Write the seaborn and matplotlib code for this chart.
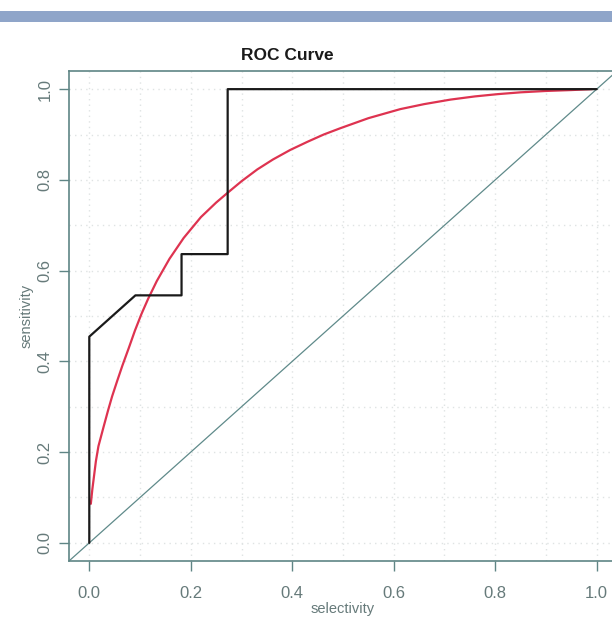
import matplotlib
matplotlib.use("Agg")
import matplotlib.pyplot as plt
import seaborn as sns
import pandas as pd
from matplotlib.patches import Rectangle
from matplotlib.ticker import MultipleLocator

# Empirical ROC (black step curve)
emp_fpr = [0.0, 0.0, 0.0909, 0.1818, 0.1818, 0.2727, 0.2727, 1.0]
emp_tpr = [0.0, 0.4545, 0.5455, 0.5455, 0.6364, 0.6364, 1.0, 1.0]

# Smoothed ROC (red curve)
smooth_fpr = [0.003, 0.006, 0.0085, 0.013, 0.018, 0.028, 0.037, 0.045, 0.055,
              0.065, 0.078, 0.09, 0.103, 0.116, 0.133, 0.158, 0.186, 0.22,
              0.25, 0.272, 0.30, 0.331, 0.362, 0.396, 0.43, 0.462, 0.495,
              0.55, 0.613, 0.66, 0.712, 0.76, 0.805, 0.85, 0.9, 0.95, 0.99]
smooth_tpr = [0.086, 0.118, 0.14, 0.18, 0.213, 0.255, 0.292, 0.323, 0.357,
              0.39, 0.43, 0.468, 0.505, 0.538, 0.577, 0.626, 0.672, 0.718,
              0.75, 0.771, 0.797, 0.823, 0.845, 0.866, 0.884, 0.9, 0.914,
              0.936, 0.956, 0.967, 0.977, 0.984, 0.989, 0.993, 0.996, 0.998, 1.0]

diag = [0.0, 1.0]

ticks = [0.0, 0.2, 0.4, 0.6, 0.8, 1.0]
tick_labels = ["0.0", "0.2", "0.4", "0.6", "0.8", "1.0"]

sns.set_theme(style="white")
plt.rcParams["font.family"] = ["Liberation Sans", "DejaVu Sans"]

fig = plt.figure(figsize=(6.12, 6.21), dpi=100)
fig.patches.append(Rectangle((0, 1 - 22 / 621), 1, 11 / 621, transform=fig.transFigure,
                             facecolor="#8fa5c9", edgecolor="none", zorder=0))

ax = fig.add_axes([69 / 612, 60 / 621, 548 / 612, 490 / 621])

axis_col = "#5f8585"
text_col = "#667a7a"

df_emp = pd.DataFrame({"x": emp_fpr, "y": emp_tpr})
df_sm = pd.DataFrame({"x": smooth_fpr, "y": smooth_tpr})

# diagonal reference line y = x, extended across the box
ax.axline((diag[0], diag[0]), (diag[1], diag[1]), color="#5f8a8a", lw=0.9, zorder=2)

sns.lineplot(data=df_emp, x="x", y="y", sort=False, estimator=None, ax=ax,
             color="#1a1a1a", lw=1.6, zorder=4)
sns.lineplot(data=df_sm, x="x", y="y", sort=False, estimator=None, ax=ax,
             color="#de3350", lw=1.6, zorder=3)

ax.set_xlim(-0.04, 1.04)
ax.set_ylim(-0.04, 1.04)

ax.set_xticks(ticks)
ax.set_xticklabels(tick_labels)
ax.set_yticks(ticks)
ax.set_yticklabels(tick_labels, rotation=90, va="center")
ax.xaxis.set_minor_locator(MultipleLocator(0.1))
ax.yaxis.set_minor_locator(MultipleLocator(0.1))
ax.grid(True, which="both", linestyle=(0, (1, 3)), color="#dfe3e3", lw=1.0, zorder=0)
ax.tick_params(axis="both", which="major", direction="out", length=7, width=1,
               color=axis_col, labelcolor=text_col, labelsize=12,
               bottom=True, left=True)
ax.tick_params(axis="x", which="major", pad=11)
ax.tick_params(axis="y", which="major", pad=5)
ax.tick_params(axis="both", which="minor", length=0)

for s in ax.spines.values():
    s.set_color(axis_col)
    s.set_linewidth(1.2)

ax.set_xlabel("selectivity", color=text_col, fontsize=10.5, labelpad=1)
ax.set_ylabel("sensitivity", color=text_col, fontsize=10.5, labelpad=3)
fig.text(287 / 612, 1 - 55 / 621, "ROC Curve", fontsize=12.5, fontweight="bold",
         color="#1a1a1a", ha="center", va="center")

fig.savefig("out.png", dpi=100)
